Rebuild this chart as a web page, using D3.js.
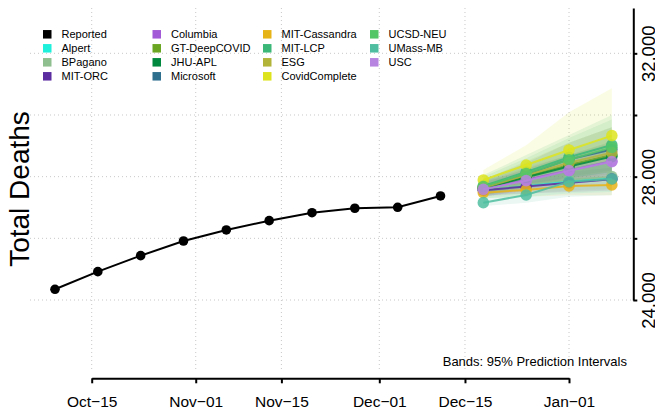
<!DOCTYPE html>
<html>
<head>
<meta charset="utf-8">
<script src="https://cdn.jsdelivr.net/npm/d3@7"></script>
<style>
  body { margin: 0; background: #fff; }
  svg { display: block; font-family: "Liberation Sans", Arial, sans-serif; }
</style>
</head>
<body>
<div id="chart"></div>
<script>
// reported weekly totals
const reportedDates = ["2020-10-09", "2020-10-16", "2020-10-23", "2020-10-30", "2020-11-06",
                       "2020-11-13", "2020-11-20", "2020-11-27", "2020-12-04", "2020-12-11"];
const reportedDeaths = [24348, 24919, 25438, 25914, 26271, 26573, 26832, 26975, 27007, 27374];

// forecast horizons
const forecastDates = ["2020-12-18", "2020-12-25", "2021-01-01", "2021-01-08"];

const models = ["Alpert", "BPagano", "MIT-ORC", "Columbia", "GT-DeepCOVID", "JHU-APL", "Microsoft",
                "MIT-Cassandra", "MIT-LCP", "ESG", "CovidComplete", "UCSD-NEU", "UMass-MB", "USC"];
const modelColors = ["#1ff0dc", "#8fbe8f", "#5b2ca0", "#a35ad6", "#6ba622", "#00893e", "#2e6f8e",
                     "#e7b418", "#3bb878", "#b2b43a", "#dde41d", "#53c667", "#4fbea0", "#b784e0"];

const pointForecasts = [
  [27600, 27720, 27860, 27950],
  [27580, 27750, 27900, 28000],
  [27560, 27680, 27800, 27920],
  [27600, 27900, 28200, 28500],
  [27640, 28000, 28380, 28700],
  [27620, 27980, 28330, 28650],
  [27660, 28080, 28560, 28880],
  [27481, 27569, 27698, 27731],
  [27700, 28150, 28629, 29028],
  [27640, 28050, 28450, 28778],
  [27893, 28379, 28866, 29330],
  [27680, 28100, 28550, 28950],
  [27157, 27406, 27838, 27925],
  [27590, 27870, 28195, 28487]
];
const lowerBounds = [
  [27300, 27350, 27450, 27500],
  [27350, 27450, 27550, 27600],
  [27400, 27450, 27500, 27550],
  [27350, 27550, 27750, 27900],
  [27400, 27650, 27900, 28100],
  [27450, 27700, 27950, 28150],
  [27450, 27700, 28000, 28200],
  [27300, 27350, 27400, 27400],
  [27400, 27650, 27950, 28150],
  [27400, 27600, 27800, 27950],
  [27550, 27800, 28000, 28150],
  [27350, 27600, 27850, 28050],
  [27050, 27150, 27350, 27400],
  [27350, 27550, 27750, 27900]
];
const upperBounds = [
  [27900, 28150, 28350, 28500],
  [27850, 28100, 28300, 28450],
  [27750, 27950, 28150, 28300],
  [27850, 28300, 28700, 29100],
  [27900, 28350, 28850, 29350],
  [27800, 28250, 28700, 29150],
  [27900, 28450, 29100, 29600],
  [27650, 27800, 28000, 28100],
  [28050, 28700, 29350, 30000],
  [27900, 28500, 29100, 29600],
  [28220, 29020, 30090, 30870],
  [28000, 28600, 29250, 29850],
  [27400, 27750, 28300, 28500],
  [27850, 28200, 28600, 28950]
];

const xTicks = ["2020-10-15", "2020-11-01", "2020-11-15", "2020-12-01", "2020-12-15", "2021-01-01"];
const yTicks = [24000, 26000, 28000, 30000, 32000];
const yLabelled = [24000, 28000, 32000];

const legendNames = ["Reported"].concat(models);
const legendColors = ["#000000"].concat(modelColors);

const width = 655, height = 412;
const parse = d3.timeParse("%Y-%m-%d");

const svg = d3.select("#chart").append("svg")
    .attr("width", width)
    .attr("height", height);

const x = d3.scaleTime()
    .domain([parse(xTicks[0]), parse(xTicks[xTicks.length - 1])])
    .range([91.7, 569]);
const y = d3.scaleLinear()
    .domain([24000, 33470])
    .range([300, 8]);

// grid
const grid = svg.append("g")
    .attr("stroke", "#c8c8c8")
    .attr("stroke-dasharray", "1,3")
    .attr("stroke-width", 1);
grid.selectAll("line.h").data(yTicks).enter().append("line")
    .attr("x1", 30).attr("x2", 633)
    .attr("y1", d => y(d)).attr("y2", d => y(d));
grid.selectAll("line.v").data(xTicks).enter().append("line")
    .attr("x1", d => x(parse(d))).attr("x2", d => x(parse(d)))
    .attr("y1", 8).attr("y2", 372);

// prediction bands
const area = d3.area()
    .x(d => x(d.date))
    .y0(d => y(d.lo))
    .y1(d => y(d.hi));
const line = d3.line()
    .x(d => x(d.date))
    .y(d => y(d.v));

const modelData = models.map((m, i) => ({
  name: m,
  color: modelColors[i],
  values: forecastDates.map((d, j) => ({
    date: parse(d),
    v: pointForecasts[i][j],
    lo: lowerBounds[i][j],
    hi: upperBounds[i][j]
  }))
}));

svg.append("g").selectAll("path").data(modelData).enter().append("path")
    .attr("d", d => area(d.values))
    .attr("fill", d => d.color)
    .attr("fill-opacity", 0.12)
    .attr("stroke", "none");

// reported series
const reported = reportedDates.map((d, i) => ({date: parse(d), v: reportedDeaths[i]}));
svg.append("path")
    .attr("d", line(reported))
    .attr("fill", "none")
    .attr("stroke", "#000")
    .attr("stroke-width", 2);
svg.append("g").selectAll("circle").data(reported).enter().append("circle")
    .attr("cx", d => x(d.date))
    .attr("cy", d => y(d.v))
    .attr("r", 4.8)
    .attr("fill", "#000");

// forecast lines and points
const fg = svg.append("g").selectAll("g").data(modelData).enter().append("g");
fg.append("path")
    .attr("d", d => line(d.values))
    .attr("fill", "none")
    .attr("stroke", d => d.color)
    .attr("stroke-width", 2)
    .attr("stroke-opacity", 0.85);
fg.selectAll("circle").data(d => d.values.map(v => Object.assign({color: d.color}, v)))
  .enter().append("circle")
    .attr("cx", d => x(d.date))
    .attr("cy", d => y(d.v))
    .attr("r", 5.8)
    .attr("fill", d => d.color)
    .attr("fill-opacity", 0.85);

// x axis
const xAxis = d3.axisBottom(x)
    .tickValues(xTicks.map(parse))
    .tickSize(5)
    .tickSizeOuter(0)
    .tickFormat(d => d3.timeFormat("%b")(d) + "\u2212" + d3.timeFormat("%d")(d));
const gx = svg.append("g")
    .attr("transform", "translate(0,378.3)")
    .call(xAxis);
gx.select(".domain").attr("stroke", "#000").attr("stroke-width", 2);
gx.selectAll(".tick line").attr("stroke", "#000").attr("stroke-width", 2);
gx.selectAll(".tick text")
    .attr("y", 0).attr("dy", 0)
    .attr("transform", "translate(0,29)")
    .attr("fill", "#000")
    .style("font-size", "15.5px")
    .style("font-family", "Liberation Sans, Arial, sans-serif");

// y axis on the right
const yAxis = d3.axisRight(y)
    .tickValues(yTicks)
    .tickSize(4)
    .tickSizeOuter(0)
    .tickFormat(d => yLabelled.includes(d) ? d3.format(",")(d) : "");
const gy = svg.append("g")
    .attr("transform", "translate(633.3,0)")
    .call(yAxis);
gy.select(".domain").attr("stroke", "#000").attr("stroke-width", 2);
gy.selectAll(".tick line").attr("stroke", "#000").attr("stroke-width", 2);
gy.selectAll(".tick text")
    .attr("x", 0).attr("dy", 0)
    .attr("transform", "translate(21.5,0) rotate(-90)")
    .attr("text-anchor", "middle")
    .attr("fill", "#000")
    .style("font-size", "18.5px")
    .style("font-family", "Liberation Sans, Arial, sans-serif");

// y title
svg.append("text")
    .attr("transform", "translate(28.5,189) rotate(-90)")
    .attr("text-anchor", "middle")
    .style("font-size", "28px")
    .text("Total Deaths");

// note
svg.append("text")
    .attr("x", 627).attr("y", 366)
    .attr("text-anchor", "end")
    .style("font-size", "13px")
    .text("Bands: 95% Prediction Intervals");

// legend, column-major with 4 rows
const colX = [43, 152.5, 263, 370];
const legend = svg.append("g").selectAll("g").data(legendNames).enter().append("g")
    .attr("transform", (d, i) => "translate(" + colX[Math.floor(i / 4)] + "," + (34.3 + (i % 4) * 14) + ")");
legend.append("rect")
    .attr("x", 0).attr("y", -4.25)
    .attr("width", 8.5).attr("height", 8.5)
    .attr("fill", (d, i) => legendColors[i]);
legend.append("text")
    .attr("x", 18.5).attr("y", 4)
    .style("font-size", "11px")
    .text(d => d);
</script>
</body>
</html>
